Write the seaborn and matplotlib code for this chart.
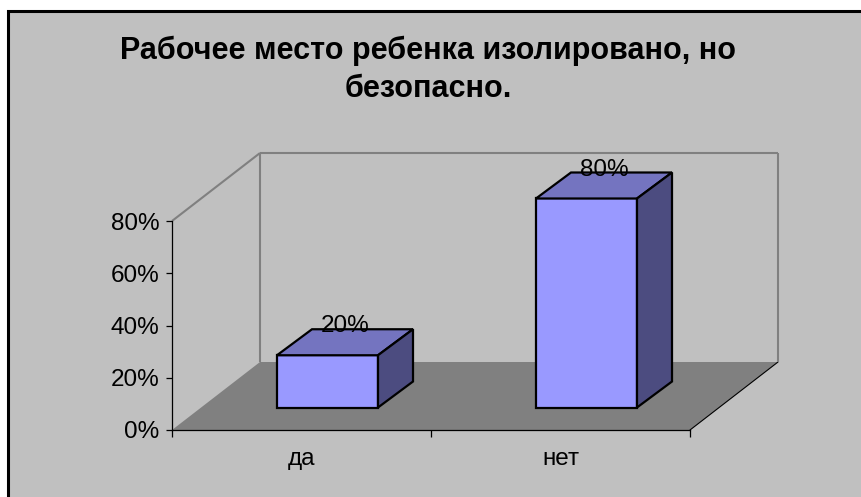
import matplotlib
matplotlib.use("Agg")
import matplotlib.pyplot as plt
import seaborn as sns
import pandas as pd
from matplotlib.patches import Polygon, Rectangle
from matplotlib.ticker import PercentFormatter

# данные
categories = ["да", "нет"]
values = [20, 80]
yticks = [0, 20, 40, 60, 80]
title = "Рабочее место ребенка изолировано, но\nбезопасно."

sns.set_style("white")
plt.rcParams["font.family"] = ["Liberation Sans", "DejaVu Sans"]
plt.rcParams["text.color"] = "black"
plt.rcParams["xtick.color"] = "black"
plt.rcParams["ytick.color"] = "black"

W, H = 862, 497
fig = plt.figure(figsize=(W / 100, H / 100), dpi=100)
fig.patch.set_facecolor("white")

# серая рамка диаграммы
fig.patches.append(Rectangle((8 / W, -0.1), 1.2, 1 - 11 / H + 0.1, transform=fig.transFigure,
                             facecolor="#c0c0c0", edgecolor="black", lw=2.2, zorder=-5))

ax = fig.add_axes([172 / W, 1 - 430 / H, 518 / W, 209 / H])
ax.set_facecolor("none")

df = pd.DataFrame({"cat": categories, "val": values})
sns.barplot(data=df, x="cat", y="val", color="#9999ff", saturation=1, width=0.39,
            edgecolor="black", linewidth=1.6, ax=ax, zorder=3)

x0, x1 = -0.5, 1.5
ax.set_xlim(x0, x1)
ax.set_ylim(0, 80)

# пиксели -> единицы данных
kx = (x1 - x0) / 518
ky = 80 / 209

wx, wy = 88 * kx, 68 * ky      # глубина стенок
bx, by = 26 * kx, 22.5 * ky    # сдвиг столбиков вглубь
dx, dy = 35 * kx, 26 * ky      # глубина столбиков

# пол
ax.add_patch(Polygon([(x0, 0), (x1, 0), (x1 + wx, wy), (x0 + wx, wy)], closed=True,
                     facecolor="#808080", edgecolor="none", clip_on=False, zorder=0.5))
ax.plot([x1, x1 + wx], [0, wy], color="black", lw=0.8, clip_on=False, zorder=0.6)

# задняя и боковая стенки
wall = dict(color="#808080", lw=1.5, clip_on=False, zorder=0.6, solid_capstyle="butt")
ax.plot([x0, x0 + wx], [80, 80 + wy], **wall)
ax.plot([x0 + wx, x0 + wx], [wy, 80 + wy], **wall)
ax.plot([x0 + wx, x1 + wx], [80 + wy, 80 + wy], **wall)
ax.plot([x1 + wx, x1 + wx], [wy, 80 + wy], **wall)

# объёмные столбики
for p, v in zip(ax.patches, values):
    p.set_x(p.get_x() + bx)
    p.set_y(by)
    p.set_clip_on(False)
    l, r = p.get_x(), p.get_x() + p.get_width()
    b, t = by, by + v
    ax.add_patch(Polygon([(l, t), (r, t), (r + dx, t + dy), (l + dx, t + dy)], closed=True,
                         facecolor="#7474c0", edgecolor="black", lw=1.6, zorder=3.1, clip_on=False))
    ax.add_patch(Polygon([(r, b), (r + dx, b + dy), (r + dx, t + dy), (r, t)], closed=True,
                         facecolor="#4c4c80", edgecolor="black", lw=1.6, zorder=3.1, clip_on=False))
    ax.annotate(f"{v}%", ((l + r) / 2 + dx / 2, t + dy / 2), xytext=(0, 16),
                textcoords="offset pixels", ha="center", va="center", fontsize=17.5,
                zorder=4, annotation_clip=False)

# оси
sns.despine(ax=ax, top=True, right=True)
for s in ("left", "bottom"):
    ax.spines[s].set_color("black")
    ax.spines[s].set_linewidth(0.9)
    ax.spines[s].set_zorder(2)

ax.set_yticks(yticks)
ax.yaxis.set_major_formatter(PercentFormatter(decimals=0))
ax.tick_params(axis="y", left=True, length=4, width=0.9, pad=5, labelsize=17.5, colors="black")

ax.set_xticks([x0, 0.5, x1])
ax.set_xticklabels(["", "", ""])
ax.set_xticks([0, 1], minor=True)
ax.set_xticklabels(categories, minor=True)
ax.tick_params(axis="x", which="major", bottom=True, length=5, width=0.9, colors="black")
ax.tick_params(axis="x", which="minor", bottom=False, length=0, pad=13, labelsize=17.5)
ax.set_xlabel("")
ax.set_ylabel("")

fig.text(428 / W, 1 - 70 / H, title, ha="center", va="center", fontsize=22,
         fontweight="bold", linespacing=1.36)

fig.savefig("out.png", dpi=100)
